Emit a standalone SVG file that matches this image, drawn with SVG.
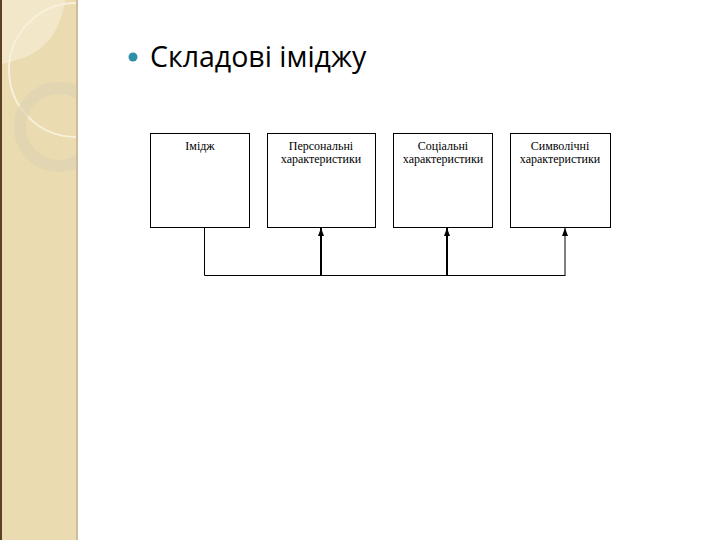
<svg xmlns="http://www.w3.org/2000/svg" width="720" height="540" viewBox="0 0 720 540">
<style>
.box{fill:#fff;stroke:#000;stroke-width:1}
.lbl{font-family:"Liberation Serif","Times New Roman",serif;font-size:12px;fill:#000;text-anchor:middle}
.ln{fill:none;stroke:#000;stroke-width:1}
.thick{stroke-width:2}
.title{font-family:"Open Sans","Noto Sans",sans-serif;font-size:28.5px;fill:#000}
</style>
<defs>
<marker id="ah" viewBox="0 0 8 6" refX="8" refY="3" markerWidth="8" markerHeight="6" markerUnits="userSpaceOnUse" orient="auto">
<path d="M0,0 L8,3 L0,6 Z" fill="#000"/>
</marker>
<clipPath id="band"><rect x="0" y="0" width="78" height="540"/></clipPath>
</defs>
<rect width="720" height="540" fill="#fff"/>
<g id="background">
<rect x="0" y="0" width="78" height="540" fill="#EADBB0"/>
<g clip-path="url(#band)">
<path d="M0,0 L65,0 C62,25 50,45 30,55 C20,60 8,62 0,65 Z" fill="#F2E8C9"/>
<circle cx="76" cy="70" r="67" fill="none" stroke="#F7F0DA" stroke-width="2"/>
<circle cx="59" cy="127" r="39" fill="none" stroke="#DED4B4" stroke-width="12" opacity="0.7"/>
</g>
<rect x="0" y="0" width="2" height="540" fill="#5B4024"/>
<rect x="76" y="0" width="2" height="540" fill="#CDBB9C"/>
</g>
<g id="title">
<circle cx="133" cy="57" r="4.5" fill="#2F8EA8"/>
<text class="title" x="150" y="67">Складові іміджу</text>
</g>
<g id="node-image">
<rect class="box" x="150.5" y="133.5" width="99" height="94"/>
<text class="lbl" x="200" y="150">Імідж</text>
</g>
<g id="node-personal">
<rect class="box" x="267.5" y="133.5" width="108" height="94"/>
<text class="lbl" x="321" y="150">Персональні</text>
<text class="lbl" x="321" y="163">характеристики</text>
</g>
<g id="node-social">
<rect class="box" x="393.5" y="133.5" width="99" height="94"/>
<text class="lbl" x="443" y="150">Соціальні</text>
<text class="lbl" x="443" y="163">характеристики</text>
</g>
<g id="node-symbolic">
<rect class="box" x="510.5" y="133.5" width="100" height="94"/>
<text class="lbl" x="560" y="150">Символічні</text>
<text class="lbl" x="560" y="163">характеристики</text>
</g>
<g id="connectors">
<polyline class="ln" points="204.5,228 204.5,275.5 565,275.5"/>
<line class="ln thick" x1="321" y1="275" x2="321" y2="228" marker-end="url(#ah)"/>
<line class="ln thick" x1="447" y1="275" x2="447" y2="228" marker-end="url(#ah)"/>
<line class="ln" x1="565" y1="276" x2="565" y2="228" marker-end="url(#ah)"/>
</g>
</svg>
